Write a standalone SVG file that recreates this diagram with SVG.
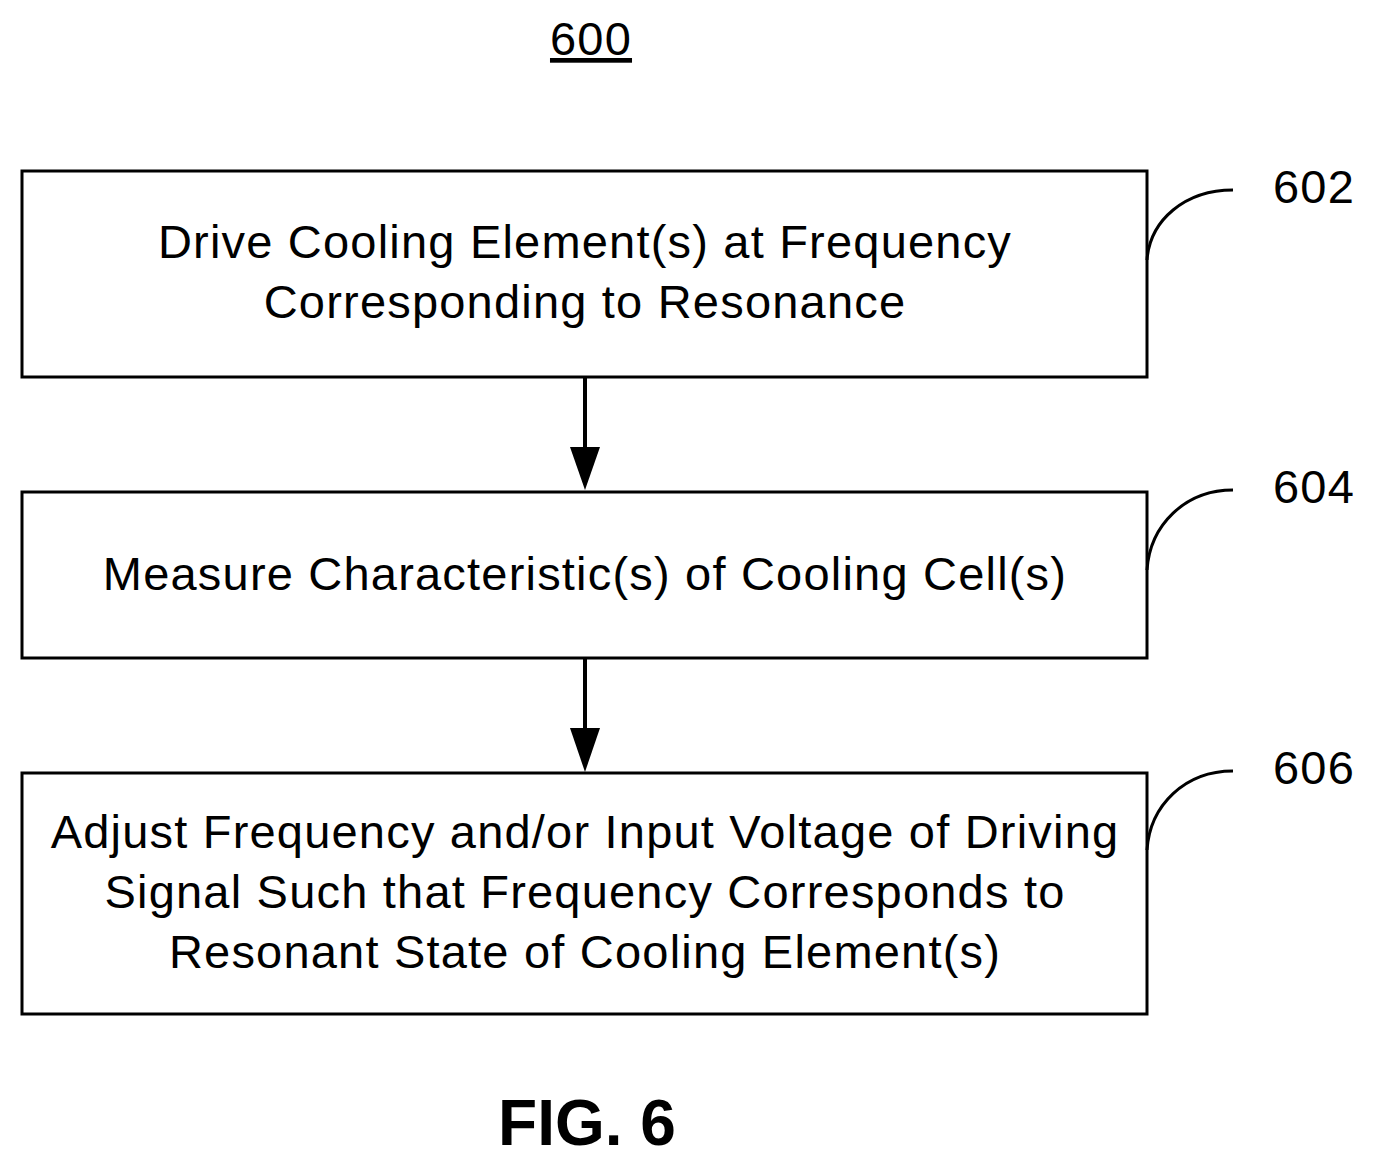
<svg xmlns="http://www.w3.org/2000/svg" width="1376" height="1168" viewBox="0 0 1376 1168">
<style>
.box{fill:#fff;stroke:#000;stroke-width:3}
.t{font-family:"Liberation Sans",Arial,sans-serif;font-size:47px;letter-spacing:1.2px;text-anchor:middle;fill:#000}
.lab{font-family:"Liberation Sans",Arial,sans-serif;font-size:47px;letter-spacing:1.2px;fill:#000}
.c{fill:none;stroke:#000;stroke-width:3}
.a{fill:none;stroke:#000;stroke-width:4}
</style>
<rect width="1376" height="1168" fill="#fff"/>
<text class="t" x="591" y="55" text-decoration="underline">600</text>
<g id="n602"><rect class="box" x="22" y="171" width="1125" height="206"/>
<text class="t" x="585" y="258">Drive Cooling Element(s) at Frequency</text>
<text class="t" x="585" y="318">Corresponding to Resonance</text></g>
<g id="n604"><rect class="box" x="22" y="492" width="1125" height="166"/>
<text class="t" x="585" y="590">Measure Characteristic(s) of Cooling Cell(s)</text></g>
<g id="n606"><rect class="box" x="22" y="773" width="1125" height="241"/>
<text class="t" x="585" y="848">Adjust Frequency and/or Input Voltage of Driving</text>
<text class="t" x="585" y="908">Signal Such that Frequency Corresponds to</text>
<text class="t" x="585" y="968">Resonant State of Cooling Element(s)</text></g>
<g id="connectors">
<line class="a" x1="585" y1="377" x2="585" y2="450"/><path d="M570,447 L600,447 L585,490 Z"/>
<line class="a" x1="585" y1="658" x2="585" y2="731"/><path d="M570,728 L600,728 L585,772 Z"/>
<path class="c" d="M1147,260 C1150,220 1185,190 1233,190"/>
<path class="c" d="M1147,570 C1150,525 1185,490 1233,490"/>
<path class="c" d="M1147,850 C1150,805 1185,771 1233,771"/>
</g>
<text class="lab" x="1273" y="203">602</text>
<text class="lab" x="1273" y="503">604</text>
<text class="lab" x="1273" y="784">606</text>
<text x="587" y="1145" font-family="Liberation Sans,Arial,sans-serif" font-size="64" font-weight="bold" text-anchor="middle">FIG. 6</text>
</svg>
